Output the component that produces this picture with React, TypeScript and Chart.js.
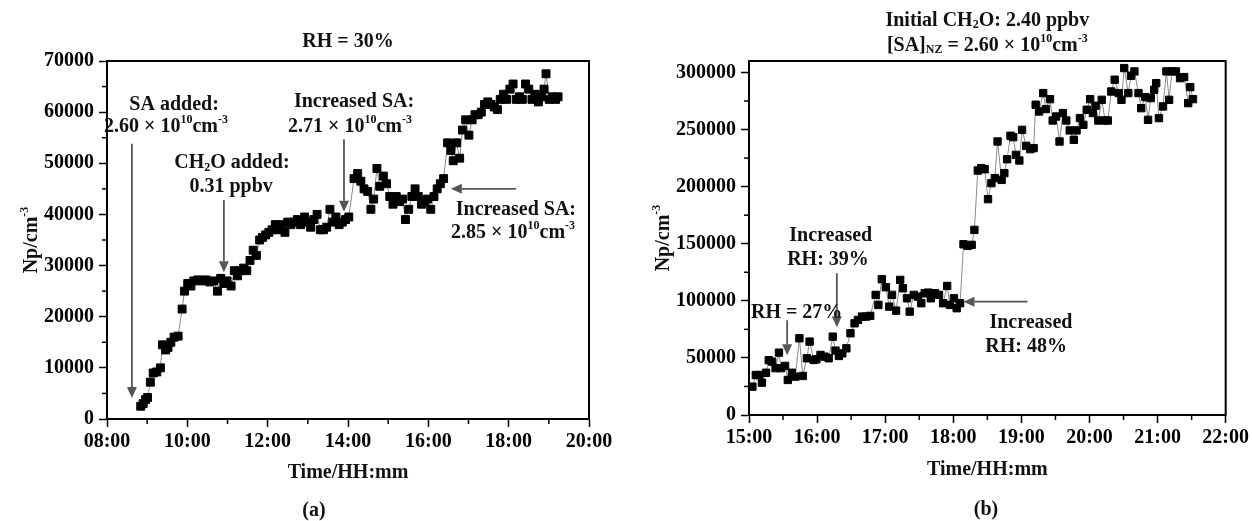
import React, { useEffect, useRef } from 'react';
import { Chart, registerables } from 'chart.js';

Chart.register(...registerables);

const FONT = '"Liberation Serif", "Times New Roman", serif';

// ---------- Panel (a): RH = 30% ----------
const timeA = [
  8.84, 8.9, 8.96, 9.01, 9.08, 9.15, 9.24, 9.33, 9.38, 9.46, 9.52, 9.59, 9.67, 9.77, 9.87, 9.93,
  10.01, 10.09, 10.16, 10.26, 10.36, 10.46, 10.56, 10.66, 10.75, 10.83, 10.91, 10.99, 11.09, 11.17,
  11.25, 11.32, 11.4, 11.48, 11.56, 11.64, 11.72, 11.8, 11.87, 11.95, 12.03, 12.11, 12.19, 12.27,
  12.35, 12.43, 12.5, 12.58, 12.66, 12.74, 12.82, 12.92, 13.0, 13.07, 13.15, 13.23, 13.31, 13.39,
  13.47, 13.55, 13.62, 13.7, 13.78, 13.86, 13.94, 14.02, 14.15, 14.24, 14.32, 14.4, 14.49, 14.57,
  14.64, 14.72, 14.79, 14.88, 14.96, 15.04, 15.12, 15.2, 15.28, 15.36, 15.43, 15.51, 15.59, 15.67,
  15.75, 15.83, 15.91, 15.98, 16.06, 16.14, 16.22, 16.3, 16.38, 16.48, 16.56, 16.62, 16.7, 16.78,
  16.85, 16.93, 17.01, 17.09, 17.16, 17.24, 17.32, 17.4, 17.48, 17.56, 17.64, 17.72, 17.79, 17.87,
  17.95, 18.03, 18.11, 18.19, 18.27, 18.34, 18.42, 18.5, 18.58, 18.66, 18.74, 18.82, 18.88, 18.93,
  19.01, 19.09, 19.17, 19.23,
];
const npA = [
  2500, 3000, 3800, 4200, 7200, 9000, 9200, 10000, 14500, 13500, 14000, 15000, 16000, 16200, 21500, 25000,
  26500, 26000, 27000, 27200, 27000, 27200, 26800, 27000, 25000, 27500, 26500, 27000, 26000, 29000,
  28000, 29000, 29500, 29000, 31000, 33000, 32000, 35000, 35500, 36000, 36500, 37000, 38000, 37000,
  38000, 36500, 38500, 38000, 38500, 39000, 38000, 39500, 38500, 37500, 39000, 40000, 37000, 37000,
  37500, 41000, 38500, 39500, 38000, 38500, 39000, 39500, 47000, 48000, 46500, 45000, 44500, 41000,
  43000, 49000, 45500, 47500, 46000, 43500, 42000, 43500, 42500, 43000, 39000, 41000, 43500, 45000,
  43500, 42000, 42500, 43000, 41000, 43500, 45000, 46000, 47000, 54000, 52500, 50500, 54000, 51000,
  56500, 58500, 55500, 58500, 59500, 59500, 60000, 61500, 62000, 61500, 61000, 60500, 62500, 63500,
  62500, 64500, 65500, 62500, 63000, 62500, 65500, 64500, 62500, 63500, 62000, 63000, 64500, 67500,
  62500, 63000, 62500, 63000,
];
const xTickHoursA = [8, 10, 12, 14, 16, 18, 20];
const yTickValuesA = [0, 10000, 20000, 30000, 40000, 50000, 60000, 70000];

// ---------- Panel (b): Initial CH2O 2.40 ppbv ----------
const timeB = [
  15.05, 15.1, 15.15, 15.19, 15.25, 15.29, 15.34, 15.39, 15.44, 15.47, 15.53, 15.57, 15.63, 15.68,
  15.74, 15.79, 15.85, 15.89, 15.95, 15.99, 16.05, 16.11, 16.17, 16.23, 16.27, 16.32, 16.37, 16.43,
  16.49, 16.55, 16.6, 16.66, 16.72, 16.78, 16.86, 16.9, 16.95, 17.01, 17.06, 17.1, 17.16, 17.22,
  17.26, 17.32, 17.36, 17.42, 17.48, 17.53, 17.58, 17.63, 17.67, 17.73, 17.79, 17.85, 17.91, 17.95,
  18.01, 18.05, 18.1, 18.15, 18.21, 18.27, 18.31, 18.36, 18.41, 18.46, 18.51, 18.56, 18.61, 18.65,
  18.71, 18.75, 18.79, 18.84, 18.88, 18.92, 18.97, 19.01, 19.07, 19.13, 19.18, 19.21, 19.26, 19.32,
  19.36, 19.42, 19.46, 19.51, 19.56, 19.61, 19.66, 19.71, 19.77, 19.81, 19.86, 19.91, 19.96, 20.01,
  20.05, 20.09, 20.13, 20.18, 20.23, 20.27, 20.32, 20.37, 20.43, 20.47, 20.51, 20.57, 20.61, 20.66,
  20.72, 20.76, 20.82, 20.86, 20.9, 20.95, 20.98, 21.02, 21.08, 21.13, 21.17, 21.21, 21.27, 21.33,
  21.39, 21.45, 21.48, 21.52,
];
const npB = [
  24800, 35000, 35000, 28300, 37000, 48000, 46700, 41000, 54600, 41000, 43000, 30700, 37000, 33600,
  67200, 34200, 49700, 64300, 48200, 48800, 52600, 51100, 49700, 68600, 56400, 51700, 54000, 58400,
  71600, 80300, 83200, 86200, 86200, 86800, 105200, 96400, 118900, 111900, 94900, 105200, 91400, 118300,
  111000, 102200, 90500, 105200, 103700, 97900, 106600, 107200, 102200, 106600, 105200, 97900, 113000, 96400,
  102200, 93500, 97900, 149500, 148100, 149000, 162100, 214100, 216200, 215200, 189000, 203000, 207400, 239500,
  205900, 211800, 224000, 244500, 243300, 227800, 222900, 249700, 235700, 232800, 233700, 271700, 265800, 281900,
  267900, 276600, 257900, 261400, 239500, 264400, 257900, 249200, 241000, 249200, 260000, 254100, 267300, 276600,
  264400, 270800, 257900, 276000, 257900, 257900, 283300, 293600, 281900, 276000, 303800, 281900, 297100, 300900,
  281900, 268700, 278400, 258500, 277500, 284800, 290600, 260000, 270200, 300900, 276000, 300900, 300900, 295000,
  295900, 273100, 287100, 276600,
];
const xTickHoursB = [15, 16, 17, 18, 19, 20, 21, 22];
const yTickValuesB = [0, 50000, 100000, 150000, 200000, 250000, 300000];

// ---------- Annotations (data coordinates) ----------
type Seg = { t: string; k?: 'sup' | 'sub' };
type Txt = { x: number; y: number; segs: Seg[] };
type Arrow = { x1: number; y1: number; x2: number; y2: number };

const arrowsA: Arrow[] = [
  { x1: 8.62, y1: 53800, x2: 8.62, y2: 4100 },
  { x1: 10.91, y1: 42800, x2: 10.91, y2: 28700 },
  { x1: 13.9, y1: 54700, x2: 13.9, y2: 40500 },
  { x1: 18.18, y1: 45000, x2: 16.56, y2: 45000 },
];
const textsA: Txt[] = [
  { x: 9.67, y: 61400, segs: [{ t: 'SA added:' }] },
  { x: 9.47, y: 57100, segs: [{ t: '2.60 × 10' }, { t: '10', k: 'sup' }, { t: 'cm' }, { t: '-3', k: 'sup' }] },
  { x: 11.11, y: 50050, segs: [{ t: 'CH' }, { t: '2', k: 'sub' }, { t: 'O added:' }] },
  { x: 11.09, y: 45360, segs: [{ t: '0.31 ppbv' }] },
  { x: 14.15, y: 61980, segs: [{ t: 'Increased SA:' }] },
  { x: 14.05, y: 57100, segs: [{ t: '2.71 × 10' }, { t: '10', k: 'sup' }, { t: 'cm' }, { t: '-3', k: 'sup' }] },
  { x: 18.18, y: 40870, segs: [{ t: 'Increased SA:' }] },
  { x: 18.11, y: 36370, segs: [{ t: '2.85 × 10' }, { t: '10', k: 'sup' }, { t: 'cm' }, { t: '-3', k: 'sup' }] },
];
const arrowsB: Arrow[] = [
  { x1: 15.56, y1: 83000, x2: 15.56, y2: 52400 },
  { x1: 16.29, y1: 124100, x2: 16.29, y2: 76900 },
  { x1: 19.09, y1: 99200, x2: 18.15, y2: 99200 },
];
const textsB: Txt[] = [
  { x: 16.2, y: 157300, segs: [{ t: 'Increased' }] },
  { x: 16.16, y: 136300, segs: [{ t: 'RH: 39%' }] },
  { x: 15.7, y: 89100, segs: [{ t: 'RH = 27%' }] },
  { x: 19.14, y: 80400, segs: [{ t: 'Increased' }] },
  { x: 19.07, y: 59400, segs: [{ t: 'RH: 48%' }] },
];

const titleA: Seg[][] = [[{ t: 'RH = 30%' }]];
const titleB: Seg[][] = [
  [{ t: 'Initial CH' }, { t: '2', k: 'sub' }, { t: 'O: 2.40 ppbv' }],
  [{ t: '[SA]' }, { t: 'NZ', k: 'sub' }, { t: ' = 2.60 × 10' }, { t: '10', k: 'sup' }, { t: 'cm' }, { t: '-3', k: 'sup' }],
];
const yTitle: Seg[] = [{ t: 'Np/cm' }, { t: '-3', k: 'sup' }];
const xTitle: Seg[] = [{ t: 'Time/HH:mm' }];

function fontOf(size: number) {
  return `bold ${size}px ${FONT}`;
}

function drawRich(ctx: CanvasRenderingContext2D, segs: Seg[], cx: number, cy: number, size: number) {
  const sizes = segs.map((s) => (s.k ? Math.round(size * 0.62) : size));
  let w = 0;
  segs.forEach((s, i) => {
    ctx.font = fontOf(sizes[i]);
    w += ctx.measureText(s.t).width;
  });
  let x = cx - w / 2;
  ctx.textAlign = 'left';
  ctx.textBaseline = 'middle';
  segs.forEach((s, i) => {
    ctx.font = fontOf(sizes[i]);
    const dy = s.k === 'sup' ? -size * 0.36 : s.k === 'sub' ? size * 0.22 : 0;
    ctx.fillText(s.t, x, cy + dy);
    x += ctx.measureText(s.t).width;
  });
}

type Deco = {
  xMinor: number;
  xMajor: number;
  yMinor: number;
  yMajor: number;
  arrows: Arrow[];
  texts: Txt[];
  title: Seg[][];
  titleY: number[];
  yTitleX: number;
  xTitleY: number;
  panel: string;
  panelX: number;
  panelY: number;
};

const decoPlugin = {
  id: 'deco',
  afterDraw(chart: any, _args: any, opts: Deco) {
    const { ctx, chartArea: ca } = chart;
    const x = chart.scales.x;
    const y = chart.scales.y;
    ctx.save();
    ctx.strokeStyle = '#000';
    ctx.lineWidth = 1.5;
    // minor ticks
    const isMul = (v: number, m: number) => Math.abs(v / m - Math.round(v / m)) < 1e-6;
    for (let v = x.min; v <= x.max + 1e-9; v += opts.xMinor) {
      if (isMul(v, opts.xMajor)) continue;
      const px = x.getPixelForValue(v);
      ctx.beginPath();
      ctx.moveTo(px, ca.bottom);
      ctx.lineTo(px, ca.bottom + 5);
      ctx.stroke();
    }
    for (let v = y.min; v <= y.max + 1e-9; v += opts.yMinor) {
      if (isMul(v, opts.yMajor)) continue;
      const py = y.getPixelForValue(v);
      ctx.beginPath();
      ctx.moveTo(ca.left, py);
      ctx.lineTo(ca.left - 5, py);
      ctx.stroke();
    }
    // frame
    ctx.lineWidth = 2;
    ctx.strokeRect(ca.left, ca.top, ca.right - ca.left, ca.bottom - ca.top);

    // arrows
    ctx.strokeStyle = '#555';
    ctx.fillStyle = '#555';
    for (const a of opts.arrows) {
      const x1 = x.getPixelForValue(a.x1);
      const y1 = y.getPixelForValue(a.y1);
      const x2 = x.getPixelForValue(a.x2);
      const y2 = y.getPixelForValue(a.y2);
      const ang = Math.atan2(y2 - y1, x2 - x1);
      const hl = 11;
      const hw = 5;
      const bx = x2 - hl * Math.cos(ang);
      const by = y2 - hl * Math.sin(ang);
      ctx.lineWidth = 1.8;
      ctx.beginPath();
      ctx.moveTo(x1, y1);
      ctx.lineTo(bx, by);
      ctx.stroke();
      ctx.beginPath();
      ctx.moveTo(x2, y2);
      ctx.lineTo(bx - hw * Math.sin(ang), by + hw * Math.cos(ang));
      ctx.lineTo(bx + hw * Math.sin(ang), by - hw * Math.cos(ang));
      ctx.closePath();
      ctx.fill();
    }

    // texts
    ctx.fillStyle = '#111';
    for (const t of opts.texts) {
      drawRich(ctx, t.segs, x.getPixelForValue(t.x), y.getPixelForValue(t.y), 20);
    }

    // titles
    const cx = (ca.left + ca.right) / 2;
    opts.title.forEach((line, i) => drawRich(ctx, line, cx, opts.titleY[i], 20));
    drawRich(ctx, xTitle, cx, opts.xTitleY, 20);
    drawRich(ctx, [{ t: opts.panel }], opts.panelX, opts.panelY, 20);
    ctx.save();
    ctx.translate(opts.yTitleX, (ca.top + ca.bottom) / 2);
    ctx.rotate(-Math.PI / 2);
    drawRich(ctx, yTitle, 0, 0, 20);
    ctx.restore();

    ctx.restore();
  },
};

type PanelCfg = {
  times: number[];
  values: number[];
  xMin: number;
  xMax: number;
  xMajors: number[];
  yMax: number;
  yMajors: number[];
  yAxisWidth: number;
  pointRadius: number;
  padding: { left: number; right: number; top: number; bottom: number };
  deco: Deco;
};

function hh(v: number) {
  return `${String(v).padStart(2, '0')}:00`;
}

function Panel({ cfg, width, height }: { cfg: PanelCfg; width: number; height: number }) {
  const ref = useRef<HTMLCanvasElement | null>(null);
  useEffect(() => {
    if (!ref.current) return;
    const chart = new Chart(ref.current, {
      type: 'line',
      data: {
        datasets: [
          {
            data: cfg.times.map((t, i) => ({ x: t, y: cfg.values[i] })),
            borderColor: '#8a8a8a',
            borderWidth: 1,
            pointStyle: 'rect',
            pointRadius: cfg.pointRadius,
            pointBackgroundColor: '#000',
            pointBorderColor: '#000',
            pointBorderWidth: 1,
            tension: 0,
          },
        ],
      },
      options: {
        animation: false,
        responsive: false,
        devicePixelRatio: 1,
        layout: { padding: cfg.padding },
        plugins: {
          legend: { display: false },
          tooltip: { enabled: false },
          deco: cfg.deco,
        } as any,
        scales: {
          x: {
            type: 'linear',
            min: cfg.xMin,
            max: cfg.xMax,
            afterBuildTicks: (s: any) => {
              s.ticks = cfg.xMajors.map((v) => ({ value: v }));
            },
            afterFit: (s: any) => {
              s.height = 40;
            },
            border: { display: true, color: '#000', width: 2 },
            grid: {
              drawOnChartArea: false,
              drawTicks: true,
              tickLength: 8,
              tickWidth: 1.5,
              tickColor: '#000',
            },
            ticks: {
              autoSkip: false,
              maxRotation: 0,
              padding: 3,
              color: '#000',
              font: { family: FONT, size: 20, weight: 'bold' },
              callback: (v: any) => hh(Number(v)),
            },
          },
          y: {
            type: 'linear',
            min: 0,
            max: cfg.yMax,
            afterBuildTicks: (s: any) => {
              s.ticks = cfg.yMajors.map((v) => ({ value: v }));
            },
            afterFit: (s: any) => {
              s.width = cfg.yAxisWidth;
            },
            border: { display: true, color: '#000', width: 2 },
            grid: {
              drawOnChartArea: false,
              drawTicks: true,
              tickLength: 8,
              tickWidth: 1.5,
              tickColor: '#000',
            },
            ticks: {
              autoSkip: false,
              padding: 5,
              color: '#000',
              font: { family: FONT, size: 20, weight: 'bold' },
              callback: (v: any) => String(v),
            },
          },
        },
      } as any,
      plugins: [decoPlugin as any],
    });
    return () => chart.destroy();
  }, [cfg]);
  return <canvas ref={ref} width={width} height={height} style={{ display: 'block', width, height }} />;
}

const cfgA: PanelCfg = {
  times: timeA,
  values: npA,
  xMin: 8,
  xMax: 20,
  xMajors: xTickHoursA,
  yMax: 70000,
  yMajors: yTickValuesA,
  yAxisWidth: 107,
  pointRadius: 5.6,
  padding: { left: 0, right: 37, top: 61, bottom: 62 },
  deco: {
    xMinor: 1,
    xMajor: 2,
    yMinor: 5000,
    yMajor: 10000,
    arrows: arrowsA,
    texts: textsA,
    title: titleA,
    titleY: [42],
    yTitleX: 32,
    xTitleY: 473,
    panel: '(a)',
    panelX: 314,
    panelY: 511,
  },
};

const cfgB: PanelCfg = {
  times: timeB,
  values: npB,
  xMin: 15,
  xMax: 22,
  xMajors: xTickHoursB,
  yMax: 310000,
  yMajors: yTickValuesB,
  yAxisWidth: 123,
  pointRadius: 5.2,
  padding: { left: 0, right: 25, top: 61, bottom: 66 },
  deco: {
    xMinor: 0.5,
    xMajor: 1,
    yMinor: 25000,
    yMajor: 50000,
    arrows: arrowsB,
    texts: textsB,
    title: titleB,
    titleY: [21, 46],
    yTitleX: 38,
    xTitleY: 470,
    panel: '(b)',
    panelX: 360,
    panelY: 510,
  },
};

export default function App() {
  return (
    <div style={{ position: 'absolute', left: 0, top: 0, width: 1252, height: 521, background: '#fff', display: 'flex' }}>
      <Panel cfg={cfgA} width={626} height={521} />
      <Panel cfg={cfgB} width={626} height={521} />
    </div>
  );
}
